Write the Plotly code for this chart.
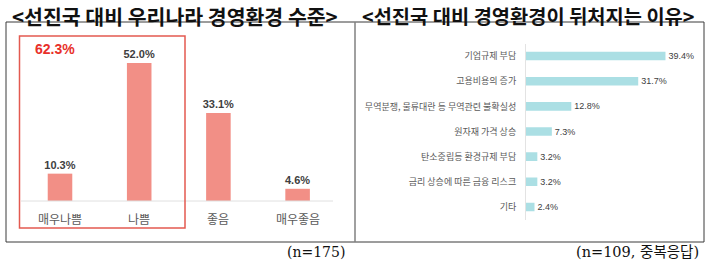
import plotly.graph_objects as go

W, H = 710, 263
def px(x): return x / W
def py(y): return 1 - y / H

# Left chart data
left_title = "<선진국 대비 우리나라 경영환경 수준>"
left_cats = ["매우나쁨", "나쁨", "좋음", "매우좋음"]
left_vals = [10.3, 52.0, 33.1, 4.6]
left_group_label = "62.3%"
left_note = "(n=175)"

# Right chart data
right_title = "<선진국 대비 경영환경이 뒤처지는 이유>"
right_cats = ["기업규제 부담", "고용비용의 증가", "무역분쟁, 물류대란 등 무역관련 불확실성",
              "원자재 가격 상승", "탄소중립등 환경규제 부담", "금리 상승에 따른 금융 리스크", "기타"]
right_vals = [39.4, 31.7, 12.8, 7.3, 3.2, 3.2, 2.4]
right_note = "(n=109, 중복응답)"

KFONT = "Noto Sans CJK KR, Noto Sans, sans-serif"
SFONT = "DejaVu Serif, Liberation Serif, Noto Sans CJK KR, serif"

fig = go.Figure()

lx = list(range(len(left_cats)))
fig.add_trace(go.Bar(
    x=lx, y=left_vals, width=0.31,
    marker=dict(color="#F28F86", line=dict(width=0)),
    text=[f"{v:.1f}%" for v in left_vals], textposition="outside",
    textfont=dict(family="Liberation Sans, Arial, sans-serif", size=11, color="#404040"),
    texttemplate="<b>%{text}</b>", constraintext="none",
    cliponaxis=False, xaxis="x", yaxis="y", hoverinfo="skip"))

fig.add_trace(go.Bar(
    y=right_cats, x=right_vals, orientation="h", width=0.34,
    marker=dict(color="#ABDFE4", line=dict(width=0)),
    text=[f"{v:.1f}%" for v in right_vals], textposition="outside",
    textfont=dict(family="Liberation Sans, Arial, sans-serif", size=9, color="#404040"),
    constraintext="none",
    cliponaxis=False, xaxis="x2", yaxis="y2", hoverinfo="skip"))

ppu = 79.2
fig.update_layout(
    width=W, height=H, margin=dict(l=0, r=0, t=0, b=0),
    paper_bgcolor="white", plot_bgcolor="white", showlegend=False,
    xaxis=dict(domain=[px(21), px(333)], range=[(21 - 60) / ppu, (333 - 60) / ppu],
               showticklabels=False, showgrid=False, zeroline=False,
               showline=False, fixedrange=True),
    yaxis=dict(domain=[py(201), py(40)], range=[0, (201 - 40) / 2.655],
               showticklabels=False, showgrid=False, zeroline=False, fixedrange=True),
    xaxis2=dict(domain=[px(526), px(700)], range=[0, (700 - 526) / 3.54],
                showticklabels=False, showgrid=False, zeroline=False, fixedrange=True,
                anchor="y2"),
    yaxis2=dict(domain=[py(219.5), py(43.5)], autorange="reversed", anchor="x2",
                showgrid=False, zeroline=False, showline=True, linecolor="#E3E3E3",
                linewidth=1, ticks="", ticklabelstandoff=7,
                tickfont=dict(family=KFONT, size=9, color="#595959"), fixedrange=True),
)

shapes = []
# outer frame
shapes.append(dict(type="rect", xref="paper", yref="paper", x0=px(6), x1=px(704),
                   y0=py(242), y1=py(22), line=dict(color="#3a3a3a", width=1)))
# divider
shapes.append(dict(type="line", xref="paper", yref="paper", x0=px(355), x1=px(355),
                   y0=py(242), y1=py(22), line=dict(color="#808080", width=1.5)))
# left baseline
shapes.append(dict(type="line", xref="paper", yref="paper", x0=px(21), x1=px(333),
                   y0=py(201), y1=py(201), line=dict(color="#E0E0E0", width=1)))
# red group box
shapes.append(dict(type="rect", xref="paper", yref="paper", x0=px(19.5), x1=px(185),
                   y0=py(228), y1=py(36), line=dict(color="#E35A50", width=1.5)))
fig.update_layout(shapes=shapes)

ann = []
ann.append(dict(text=f"<b>{left_title}</b>", xref="paper", yref="paper", x=px(175), y=1,
                showarrow=False, font=dict(family=KFONT, size=20.5, color="#111111"),
                xanchor="center", yanchor="top", yshift=1.5))
ann.append(dict(text=f"<b>{right_title}</b>", xref="paper", yref="paper", x=px(528), y=1,
                showarrow=False, font=dict(family=KFONT, size=19.8, color="#111111"),
                xanchor="center", yanchor="top", yshift=1.5))
for i, c in enumerate(left_cats):
    ann.append(dict(text=c, xref="x", yref="paper", x=lx[i], y=py(218), showarrow=False,
                    font=dict(family=KFONT, size=12, color="#595959"),
                    xanchor="center", yanchor="middle"))
ann.append(dict(text=f"<b>{left_group_label}</b>", xref="paper", yref="paper", x=px(55), y=py(49),
                showarrow=False, font=dict(family="Liberation Sans, Arial, sans-serif", size=14,
                                           color="#E8302A"),
                xanchor="center", yanchor="middle"))
ann.append(dict(text=left_note, xref="paper", yref="paper", x=px(316), y=py(252), showarrow=False,
                font=dict(family=SFONT, size=14, color="#111111"), xanchor="center", yanchor="middle"))
ann.append(dict(text=right_note, xref="paper", yref="paper", x=px(701), y=py(252), showarrow=False,
                font=dict(family=SFONT, size=14.5, color="#111111"), xanchor="right", yanchor="middle"))
fig.update_layout(annotations=ann)

fig.write_html("out.html")
